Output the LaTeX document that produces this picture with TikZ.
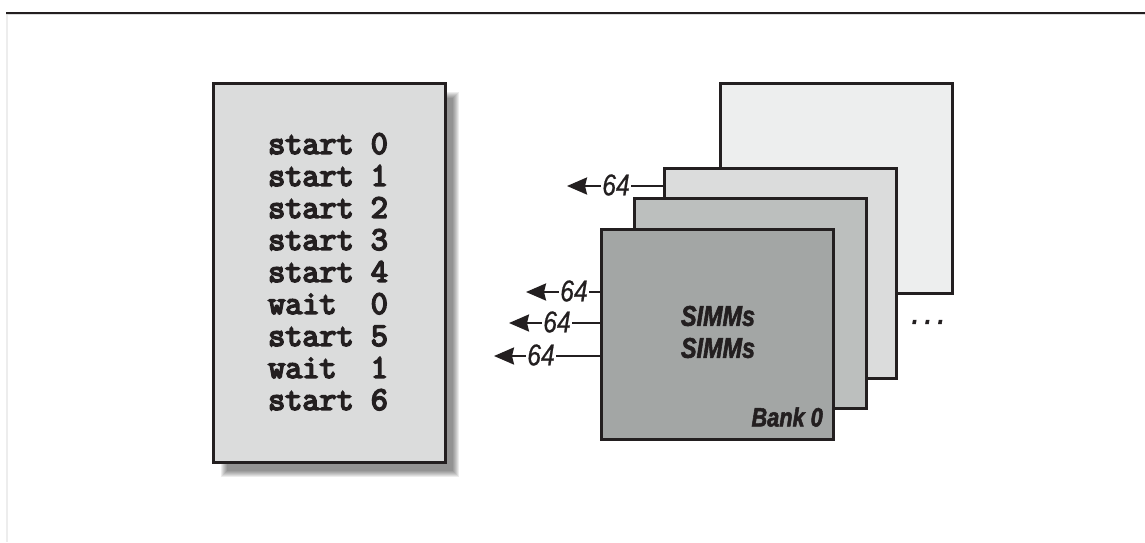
\documentclass[tikz,border=0pt]{standalone}
\usepackage{fontspec}
\usetikzlibrary{arrows.meta}
\newfontfamily\narrowsans[FakeStretch=0.82,ItalicFont={Liberation Sans Italic},ItalicFeatures={FakeBold=0.6},BoldItalicFont={Liberation Sans Bold Italic},BoldItalicFeatures={FakeBold=2}]{Liberation Sans}
\newfontfamily\codefont[FakeBold=5]{Latin Modern Mono}
\definecolor{edgeblack}{HTML}{231F20}
\definecolor{pagegray}{HTML}{DBDCDC}
\definecolor{sheetd}{HTML}{EDEEEE}
\definecolor{sheetb}{HTML}{BCBFBE}
\definecolor{sheeta}{HTML}{A3A6A5}
\tikzset{
  sheet/.style={draw=edgeblack,line width=3pt,outer sep=0pt,minimum width=232pt,minimum height=210pt,inner sep=0pt,anchor=north west},
  shadowlayer/.style={fill=black,fill opacity=.075,draw=none},
  buslabel/.style={font=\narrowsans\itshape\fontsize{30}{30}\selectfont,text=edgeblack,inner sep=1.5pt},
  boldlabel/.style={font=\narrowsans\bfseries\itshape\fontsize{28.5}{32}\selectfont,text=edgeblack,inner sep=0pt,align=center},
  wire/.style={draw=edgeblack,line width=2.4pt},
  busarrow/.style={wire,-{Stealth[length=20pt,width=17pt,inset=2pt]}}
}
\begin{document}
\begin{tikzpicture}[x=1pt,y=-1pt]
\useasboundingbox (0,0) rectangle (1145,542);
\fill[white] (0,0) rectangle (1145,542);
% page frame
\fill[pagegray!50] (6,13) rectangle (8,542);
\fill[pagegray] (6,13) rectangle (1145,15);
\fill[edgeblack] (6,12) rectangle (1145,13.6);
% shadow of listing
\foreach \d in {0,1,...,6}{
  \fill[shadowlayer] (221+\d,92+\d) rectangle (459-\d,477-\d);
}
% listing
\node[draw=edgeblack,line width=3pt,outer sep=0pt,fill=pagegray,minimum width=232.5pt,minimum height=379pt,inner sep=0pt,anchor=north west] (listing) at (213,83) {};
\node[font=\codefont\fontsize{33.2}{32}\selectfont,text=edgeblack,align=left,inner sep=0pt,anchor=north west] (code) at (268,133) {start 0\\start 1\\start 2\\start 3\\start 4\\wait\ \ 0\\start 5\\wait\ \ 1\\start 6};
% sheets
\node[sheet,fill=sheetd] (bank3) at (720,83) {};
\node[sheet,fill=pagegray] (bank2) at (664,168) {};
\node[sheet,fill=sheetb] (bank1) at (634,198) {};
\node[sheet,fill=sheeta] (bank0) at (601,229) {};
% labels
\node[boldlabel] (simms) at (718,332) {SIMMs\\SIMMs};
\node[boldlabel,font=\narrowsans\bfseries\itshape\fontsize{26.5}{30}\selectfont,anchor=east] (bankname) at (823,417) {Bank 0};
\node[font=\fontsize{26}{26}\selectfont\narrowsans\bfseries\itshape,inner sep=0pt,text=edgeblack] (dots) at (928,322) {.\hspace{7pt}.\hspace{7pt}.};
% buses
\node[buslabel] (la) at (616,185) {64};
\node[buslabel] (lb) at (574,291) {64};
\node[buslabel] (lc) at (557,322) {64};
\node[buslabel] (ld) at (541,355) {64};
\coordinate (ta) at (567,186);
\coordinate (tb) at (526,292);
\coordinate (tc) at (509,323);
\coordinate (td) at (494,356);
\draw[wire] (ta -| la.east) -- (ta -| bank2.west);
\draw[wire] (tb -| lb.east) -- (tb -| bank0.west);
\draw[wire] (tc -| lc.east) -- (tc -| bank0.west);
\draw[wire] (td -| ld.east) -- (td -| bank0.west);
\draw[busarrow] (ta -| la.west) -- (ta);
\draw[busarrow] (tb -| lb.west) -- (tb);
\draw[busarrow] (tc -| lc.west) -- (tc);
\draw[busarrow] (td -| ld.west) -- (td);
\end{tikzpicture}
\end{document}
